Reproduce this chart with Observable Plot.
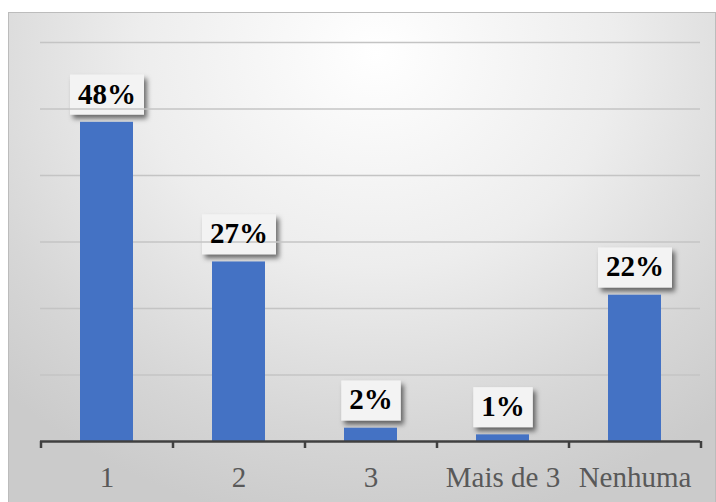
<!DOCTYPE html>
<html>
<head>
<meta charset="utf-8">
<script src="https://cdn.jsdelivr.net/npm/d3@7"></script>
<script src="https://cdn.jsdelivr.net/npm/@observablehq/plot@0.6"></script>
<style>
  html, body { margin: 0; padding: 0; background: #ffffff; }
  #wrap { position: relative; width: 716px; height: 502px; overflow: hidden; }
  #bg {
    position: absolute; left: 8px; top: 12px; width: 706px; height: 500px;
    border: 1px solid #bcbcbc;
    background: radial-gradient(ellipse 75% 95% at 52% 8%, #ffffff 0%, #ededed 45%, #d6d6d6 80%, #cbcbcb 100%);
  }
  #chart { position: absolute; left: 0; top: 0; }
</style>
</head>
<body>
<div id="wrap"><div id="bg"></div><div id="chart"></div></div>
<script>
const categories = ["1", "2", "3", "Mais de 3", "Nenhuma"];
const values = [48, 27, 2, 1, 22];
const gridValues = [10, 20, 30, 40, 50, 60];

const data = categories.map((c, i) => ({category: c, value: values[i]}));

const plot = Plot.plot({
  width: 716,
  height: 502,
  marginLeft: 40,
  marginRight: 16,
  marginTop: 42,
  marginBottom: 61,
  style: {background: "transparent", fontFamily: "'Liberation Serif', 'Times New Roman', serif"},
  x: {domain: categories, paddingInner: 0.6, paddingOuter: 0.3, axis: null, label: null},
  y: {domain: [0, 60], axis: null},
  marks: [
    Plot.ruleY(gridValues, {stroke: "#c4c4c4", strokeWidth: 1.5}),
    Plot.barY(data, {x: "category", y: "value", fill: "#4472C4"}),
    Plot.ruleY([0], {stroke: "#404040", strokeWidth: 2.5}),
    Plot.ruleX(categories, {x: d => d, y1: 0, y2: 0, insetBottom: -7, dx: -66, stroke: "#404040", strokeWidth: 2.5}),
    Plot.ruleX(categories.slice(-1), {x: d => d, y1: 0, y2: 0, insetBottom: -7, dx: 66, stroke: "#404040", strokeWidth: 2.5}),
    Plot.axisX({tickSize: 0, tickPadding: 25, fontSize: 29, fill: "#595959", color: "#595959", label: null}),
    Plot.text(data, {
      x: "category", y: "value", text: d => d.value + "%",
      dy: -28, lineAnchor: "middle", fontSize: 29, fontWeight: "bold", fill: "#000000"
    })
  ]
});

document.getElementById("chart").appendChild(plot);

// Add label boxes with shadow behind the data label texts
const svgNS = "http://www.w3.org/2000/svg";
const svg = plot;
const defs = document.createElementNS(svgNS, "defs");
defs.innerHTML = '<filter id="shadow" x="-30%" y="-30%" width="160%" height="170%">' +
  '<feDropShadow dx="3" dy="4" stdDeviation="2.5" flood-color="#000" flood-opacity="0.55"/></filter>';
svg.insertBefore(defs, svg.firstChild);

const textGroups = Array.from(svg.querySelectorAll("g[aria-label='text']"));
const labelGroup = textGroups[textGroups.length - 1];
const boxes = document.createElementNS(svgNS, "g");
if (labelGroup) {
  labelGroup.querySelectorAll("text").forEach(t => {
    const bb = t.getBBox();
    const ctm = t.getAttribute("transform") || "";
    const cy = bb.y + bb.height / 2 + 1;
    const r = document.createElementNS(svgNS, "rect");
    r.setAttribute("x", bb.x - 8);
    r.setAttribute("y", cy - 20);
    r.setAttribute("width", bb.width + 16);
    r.setAttribute("height", 40);
    r.setAttribute("fill", "#f3f3f3");
    r.setAttribute("filter", "url(#shadow)");
    if (ctm) r.setAttribute("transform", ctm);
    boxes.appendChild(r);
  });
  if (labelGroup.getAttribute("transform")) boxes.setAttribute("transform", labelGroup.getAttribute("transform"));
  const firstRule = svg.querySelector("g[aria-label='rule']");
  if (firstRule && firstRule.parentNode === svg) svg.insertBefore(boxes, firstRule);
  else svg.insertBefore(boxes, defs.nextSibling);
}
</script>
</body>
</html>
